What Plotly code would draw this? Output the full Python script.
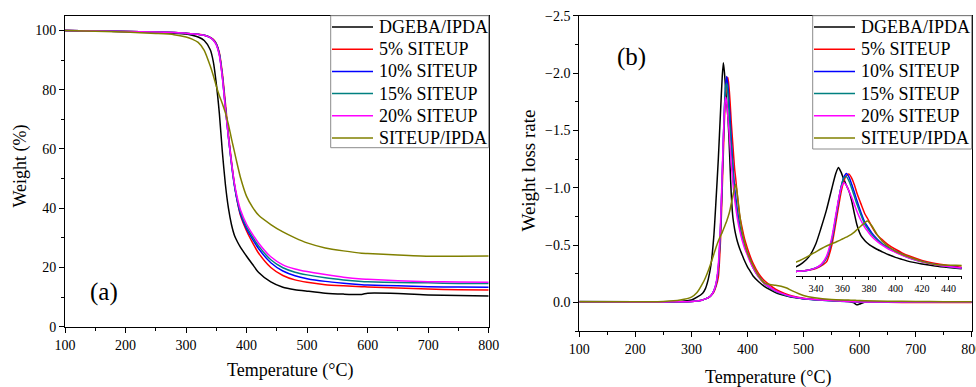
import plotly.graph_objects as go

# ---------------- TGA data: weight (%) vs temperature (°C) ----------------
tga_temp = [100, 200, 250, 280, 300, 310, 320, 330, 340, 345, 350, 355, 360, 365,
            370, 375, 380, 385, 390, 400, 410, 420, 440, 460, 480, 500, 530, 560,
            590, 600, 650, 700, 750, 800]

tga_dgeba = [100, 99.7, 99.4, 99.1, 98.8, 98.4, 97.8, 96.6, 93.5, 89.5, 82, 72, 59, 48,
             40, 34.5, 30.8, 28.6, 26.8, 23.8, 21, 18.3, 15.1, 13.3, 12.5, 12, 11.3, 11.0,
             10.9, 11.3, 11.2, 10.7, 10.5, 10.4]
tga_5 = [100, 99.7, 99.5, 99.3, 99.1, 98.9, 98.7, 98.4, 97.7, 97.0, 95.6, 92.5, 85.5, 75.5,
         65, 56, 48, 42, 37.5, 32.3, 28.3, 24.8, 20.0, 17.3, 15.8, 15.0, 14.2, 13.8,
         13.5, 13.4, 13.1, 12.7, 12.5, 12.4]
tga_10 = [100, 99.7, 99.5, 99.3, 99.1, 98.9, 98.7, 98.4, 97.6, 96.8, 95.4, 92, 84.5, 74,
          64, 55, 47.5, 42, 38, 33, 29.5, 26.3, 21.6, 18.8, 17.2, 16.2, 15.3, 14.7,
          14.2, 14.1, 13.8, 13.5, 13.4, 13.3]
tga_15 = [100, 99.7, 99.5, 99.3, 99.1, 98.9, 98.7, 98.4, 97.6, 96.8, 95.3, 92, 84.5, 74,
          64, 55.2, 47.8, 42.5, 38.6, 33.7, 30.3, 27.2, 22.6, 19.9, 18.4, 17.5, 16.5, 15.8,
          15.3, 15.2, 14.9, 14.8, 14.6, 14.6]
tga_20 = [100, 99.7, 99.5, 99.3, 99.1, 98.9, 98.7, 98.4, 97.6, 96.7, 95.1, 91.5, 84, 73.5,
          64, 55.5, 48.3, 43.2, 39.4, 34.6, 31.2, 28.2, 23.6, 20.9, 19.5, 18.6, 17.6, 16.7,
          16.1, 16.0, 15.5, 15.2, 15.1, 15.0]
tga_siteup = [100, 99.5, 99.0, 98.6, 97.8, 97.1, 96, 93.3, 88, 84.8, 81.2, 78, 75.3, 72.2,
              68.3, 63.5, 59, 54.5, 50.3, 44, 40.3, 37.6, 34.5, 32, 30, 28.3, 26.6, 25.6,
              24.8, 24.7, 24.2, 23.8, 23.8, 23.9]

# ---------------- DTG data: weight loss rate vs temperature (°C) ----------------
dtg_temp = [100, 200, 250, 280, 300, 310, 320, 325, 330, 335, 340, 344, 348, 352, 355,
            357, 359, 361, 363, 365, 367, 369, 371, 374, 377, 379, 382, 386, 390, 395,
            400, 405, 410, 420, 430, 440, 450, 460, 470, 480, 500, 520, 550, 580, 590,
            595, 600, 610, 650, 700, 750, 800]

dtg_dgeba = [-0.008, -0.005, -0.005, -0.008, -0.02, -0.045, -0.08, -0.12, -0.2, -0.33, -0.58,
             -0.9, -1.25, -1.67, -1.97, -2.09, -2.0, -1.86, -1.74, -1.62, -1.43, -1.18, -0.95,
             -0.74, -0.64, -0.59, -0.53, -0.47, -0.42, -0.36, -0.31, -0.27, -0.23, -0.18,
             -0.14, -0.11, -0.085, -0.068, -0.055, -0.045, -0.032, -0.025, -0.018, -0.01,
             0.005, 0.022, 0.015, -0.002, -0.004, -0.004, -0.004, -0.004]
dtg_5 = [-0.005, -0.004, -0.004, -0.005, -0.008, -0.012, -0.02, -0.03, -0.04, -0.06, -0.09,
         -0.14, -0.22, -0.55, -0.99, -1.3, -1.6, -1.82, -1.93, -1.96, -1.88, -1.75, -1.58,
         -1.37, -1.17, -1.08, -0.93, -0.76, -0.66, -0.55, -0.47, -0.40, -0.34, -0.25,
         -0.19, -0.15, -0.115, -0.09, -0.07, -0.055, -0.036, -0.025, -0.015, -0.008,
         -0.006, -0.005, -0.004, -0.003, 0.0, 0.002, 0.002, 0.002]
dtg_10 = [-0.005, -0.004, -0.004, -0.005, -0.008, -0.012, -0.02, -0.03, -0.04, -0.06, -0.1,
          -0.16, -0.3, -0.65, -1.1, -1.42, -1.7, -1.89, -1.97, -1.9, -1.76, -1.6, -1.43,
          -1.2, -1.0, -0.92, -0.8, -0.68, -0.58, -0.5, -0.43, -0.37, -0.31, -0.23,
          -0.17, -0.13, -0.1, -0.078, -0.06, -0.048, -0.032, -0.022, -0.013, -0.008,
          -0.006, -0.005, -0.004, -0.003, -0.002, -0.002, -0.002, -0.002]
dtg_15 = [-0.005, -0.004, -0.004, -0.005, -0.008, -0.012, -0.02, -0.03, -0.04, -0.06, -0.1,
          -0.16, -0.3, -0.65, -1.1, -1.42, -1.7, -1.88, -1.91, -1.82, -1.68, -1.52, -1.36,
          -1.15, -0.96, -0.88, -0.77, -0.66, -0.57, -0.49, -0.42, -0.36, -0.3, -0.22,
          -0.165, -0.125, -0.097, -0.076, -0.06, -0.048, -0.032, -0.022, -0.013, -0.008,
          -0.006, -0.005, -0.004, -0.003, -0.002, -0.002, -0.002, -0.002]
dtg_20 = [-0.005, -0.004, -0.004, -0.005, -0.008, -0.012, -0.02, -0.03, -0.04, -0.06, -0.1,
          -0.17, -0.33, -0.7, -1.15, -1.45, -1.68, -1.79, -1.74, -1.62, -1.5, -1.36, -1.22,
          -1.04, -0.9, -0.83, -0.73, -0.63, -0.55, -0.47, -0.41, -0.35, -0.3, -0.22,
          -0.165, -0.13, -0.1, -0.08, -0.063, -0.05, -0.034, -0.024, -0.015, -0.008,
          -0.006, -0.005, -0.004, -0.003, -0.002, -0.002, -0.002, -0.002]
dtg_siteup = [-0.005, -0.005, -0.008, -0.02, -0.045, -0.085, -0.165, -0.215, -0.275, -0.345,
              -0.42, -0.48, -0.535, -0.58, -0.61, -0.635, -0.66, -0.685, -0.71, -0.74, -0.77,
              -0.81, -0.86, -0.93, -1.0, -1.03, -0.94, -0.77, -0.63, -0.52, -0.43, -0.37,
              -0.32, -0.23, -0.17, -0.155, -0.15, -0.14, -0.125, -0.1, -0.06, -0.04, -0.025,
              -0.02, -0.018, -0.017, -0.015, -0.013, -0.01, -0.008, -0.005, -0.005]

series_names = ["DGEBA/IPDA", "5% SITEUP", "10% SITEUP", "15% SITEUP", "20% SITEUP", "SITEUP/IPDA"]
series_colors = ["#000000", "#ff0000", "#0000ff", "#008080", "#ff00ff", "#808000"]
tga_sets = [tga_dgeba, tga_5, tga_10, tga_15, tga_20, tga_siteup]
dtg_sets = [dtg_dgeba, dtg_5, dtg_10, dtg_15, dtg_20, dtg_siteup]

FONT = "Liberation Serif"
W, H = 976, 387
LINE = dict(width=1.5, shape="spline", smoothing=0.6)

fig = go.Figure()

for name, color, w in zip(series_names, series_colors, tga_sets):
    fig.add_trace(go.Scatter(x=tga_temp, y=w, name=name, mode="lines",
                             line=dict(color=color, **LINE), xaxis="x", yaxis="y"))

for name, color, r in zip(series_names, series_colors, dtg_sets):
    fig.add_trace(go.Scatter(x=dtg_temp, y=r, name=name, mode="lines",
                             line=dict(color=color, **LINE), xaxis="x2", yaxis="y2"))

# magnified view of the main decomposition peak
for name, color, r in zip(series_names, series_colors, dtg_sets):
    fig.add_trace(go.Scatter(x=dtg_temp, y=r, name=name, mode="lines",
                             line=dict(color=color, **LINE), xaxis="x3", yaxis="y3"))

axis_common = dict(showline=True, linecolor="black", linewidth=1, mirror=True,
                   ticks="outside", ticklen=5, tickwidth=1, tickcolor="black",
                   showgrid=False, zeroline=False, automargin=False,
                   ticklabeloverflow="allow",
                   tickfont=dict(family=FONT, size=14, color="black"))

fig.update_layout(
    width=W, height=H,
    margin=dict(l=0, r=0, t=0, b=0, pad=0, autoexpand=False),
    paper_bgcolor="white", plot_bgcolor="rgba(0,0,0,0)",
    font=dict(family=FONT, color="black"),
    showlegend=False,
    xaxis=dict(domain=[65 / W, 488.7 / W], range=[100, 800], dtick=100, anchor="y",
               minor=dict(dtick=50, ticks="outside", ticklen=3, tickcolor="black"),
               **axis_common),
    yaxis=dict(domain=[1 - 326.7 / H, 1 - 15.7 / H], range=[0, 105], dtick=20, anchor="x",
               minor=dict(dtick=10, ticks="outside", ticklen=3, tickcolor="black"),
               **axis_common),
    xaxis2=dict(domain=[579.3 / W, 971.7 / W], range=[100, 800], dtick=100, anchor="y2",
                minor=dict(dtick=50, ticks="outside", ticklen=3, tickcolor="black"),
                **axis_common),
    yaxis2=dict(domain=[1 - 331 / H, 1 - 15.7 / H], range=[0.25, -2.5], dtick=0.5,
                tickformat=".1f", anchor="x2",
                minor=dict(dtick=0.25, ticks="outside", ticklen=3, tickcolor="black"),
                **axis_common),
    xaxis3=dict(domain=[796 / W, 961.7 / W], range=[325, 450], dtick=20, tick0=340,
                anchor="y3", showline=True, linecolor="black", linewidth=1, mirror=False,
                ticks="outside", ticklen=3, tickcolor="black", showgrid=False, zeroline=False,
                automargin=False,
                minor=dict(dtick=10, ticks="outside", ticklen=2, tickcolor="black"),
                tickfont=dict(family=FONT, size=10, color="black")),
    yaxis3=dict(domain=[1 - 276 / H, 1 - 162 / H], range=[0.06, -2.2], anchor="x3",
                visible=False, automargin=False),
)

# legend boxes, drawn as a framed list of line samples and labels
legend_boxes = [
    # (box left, box right, box bottom, sample start, sample end, label start) in px
    (330.7, 488.7, 147.7, 332, 373, 377),
    (812.7, 971.7, 149.0, 814, 855, 859),
]
row_top, row_step = 27.0, 22.2
for x0, x1, yb, s0, s1, t0 in legend_boxes:
    fig.add_shape(type="rect", xref="paper", yref="paper",
                  x0=x0 / W, x1=x1 / W, y0=1 - yb / H, y1=1 - 15.7 / H,
                  line=dict(color="#8c8c8c", width=1), fillcolor="white", layer="above")
    for i, (name, color) in enumerate(zip(series_names, series_colors)):
        yy = 1 - (row_top + i * row_step) / H
        fig.add_shape(type="line", xref="paper", yref="paper",
                      x0=s0 / W, x1=s1 / W, y0=yy, y1=yy,
                      line=dict(color=color, width=1.5), layer="above")
        fig.add_annotation(text=name, x=t0 / W, y=yy, xref="paper", yref="paper",
                           showarrow=False, xanchor="left", yanchor="middle",
                           font=dict(family=FONT, size=18, color="black"))

title_font = dict(family=FONT, size=18, color="black")
fig.add_annotation(text="Temperature (°C)", x=290 / W, y=1 - 370 / H, xref="paper", yref="paper",
                   showarrow=False, font=title_font, xanchor="center", yanchor="middle")
fig.add_annotation(text="Weight (%)", x=20 / W, y=1 - 166.5 / H, xref="paper", yref="paper",
                   showarrow=False, font=title_font, textangle=-90,
                   xanchor="center", yanchor="middle")
fig.add_annotation(text="Temperature (°C)", x=768 / W, y=1 - 377 / H, xref="paper", yref="paper",
                   showarrow=False, font=title_font, xanchor="center", yanchor="middle")
fig.add_annotation(text="Weight loss rate", x=528 / W, y=1 - 170.5 / H, xref="paper", yref="paper",
                   showarrow=False, font=dict(family=FONT, size=19, color="black"), textangle=-90,
                   xanchor="center", yanchor="middle")
fig.add_annotation(text="(a)", x=104 / W, y=1 - 292 / H, xref="paper", yref="paper",
                   showarrow=False, font=dict(family=FONT, size=25, color="black"),
                   xanchor="center", yanchor="middle")
fig.add_annotation(text="(b)", x=631.5 / W, y=1 - 57 / H, xref="paper", yref="paper",
                   showarrow=False, font=dict(family=FONT, size=25, color="black"),
                   xanchor="center", yanchor="middle")

fig.write_html("out.html")
